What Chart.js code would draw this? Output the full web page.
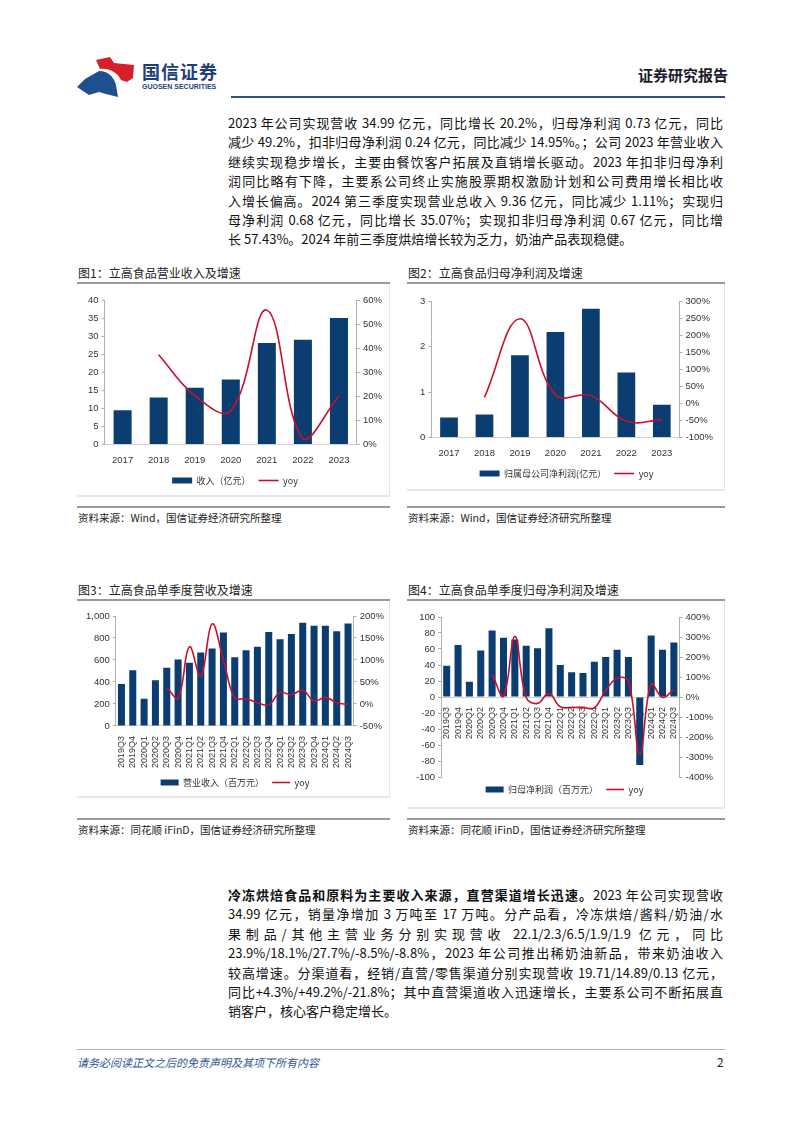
<!DOCTYPE html>
<html>
<head>
<meta charset="utf-8">
<script src="https://cdn.jsdelivr.net/npm/chart.js@4.4.1/dist/chart.umd.min.js"></script>
<style>
  body { margin: 0; background: #fff; font-family: "Noto Sans CJK SC", "Noto Sans", sans-serif; color: #111; }
  #page { position: relative; width: 802px; height: 1133px; overflow: hidden; }
  .abs { position: absolute; }
  .para { position: absolute; left: 228px; width: 495px; font-size: 13px; }
  .para div { height: 19.4px; line-height: 19.4px; text-align: justify; text-align-last: justify; }
  .para div.last { text-align-last: left; }
  .ttl { position: absolute; font-size: 12px; color: #222; line-height: 14px; }
  .rule { position: absolute; height: 2px; background: #9a9a9a; }
  .src { position: absolute; font-size: 10.5px; color: #222; line-height: 12px; }
  .box { position: absolute; border-right: 1px solid #e6e6e6; border-bottom: 2px solid #e6e6e6; }
  canvas { position: absolute; }
</style>
</head>
<body>
<div id="page">
  <!-- header -->
  <svg class="abs" style="left:76px;top:57px" width="60" height="40" viewBox="0 0 60 40">
    <path d="M20 3 L34 0 L38 6 L58 8 L57 21 L51 25 L45 23 C41 15 33 11 24 12 Z" fill="#d71f2b"/>
    <path d="M23 14 C32 14 38 20 40 28 L42 40 L30 37 L23 35 L13 38 L1 30 L9 22 Z" fill="#1d4f91"/>
  </svg>
  <div class="abs" style="left:142px;top:60px;font-size:18px;font-weight:bold;color:#1d3f7a;letter-spacing:1px;line-height:22px">国信证券</div>
  <div class="abs" style="left:142px;top:83px;font-size:7px;font-weight:bold;color:#1d3f7a;line-height:8px;font-family:'Liberation Sans',sans-serif">GUOSEN SECURITIES</div>
  <div class="abs" style="left:638px;top:66px;font-size:15px;font-weight:bold;color:#1b1b2e;line-height:18px">证券研究报告</div>
  <div class="abs" style="left:231px;top:96px;width:494px;height:2px;background:#2f4f8a"></div>

  <!-- paragraph 1 -->
  <div class="para" style="top:113px">
    <div>2023 年公司实现营收 34.99 亿元，同比增长 20.2%，归母净利润 0.73 亿元，同比</div>
    <div>减少 49.2%，扣非归母净利润 0.24 亿元，同比减少 14.95%。；公司 2023 年营业收入</div>
    <div>继续实现稳步增长，主要由餐饮客户拓展及直销增长驱动。2023 年扣非归母净利</div>
    <div>润同比略有下降，主要系公司终止实施股票期权激励计划和公司费用增长相比收</div>
    <div>入增长偏高。2024 第三季度实现营业总收入 9.36 亿元，同比减少 1.11%；实现归</div>
    <div>母净利润 0.68 亿元，同比增长 35.07%；实现扣非归母净利润 0.67 亿元，同比增</div>
    <div class="last">长 57.43%。2024 年前三季度烘焙增长较为乏力，奶油产品表现稳健。</div>
  </div>

  <!-- row 1 -->
  <div class="ttl" style="left:78px;top:266px">图1：立高食品营业收入及增速</div>
  <div class="ttl" style="left:408px;top:266px">图2：立高食品归母净利润及增速</div>
  <div class="rule" style="left:77px;top:282px;width:313px"></div>
  <div class="rule" style="left:407px;top:282px;width:318px"></div>
  <div class="box" style="left:77px;top:284px;width:312px;height:211px"></div>
  <div class="box" style="left:407px;top:284px;width:317px;height:205px"></div>
  <canvas id="c1" width="311" height="209" style="left:78px;top:287px"></canvas>
  <canvas id="c2" width="316" height="203" style="left:408px;top:287px"></canvas>
  <div class="rule" style="left:77px;top:506px;width:313px"></div>
  <div class="rule" style="left:407px;top:506px;width:318px"></div>
  <div class="src" style="left:78px;top:512px">资料来源：Wind，国信证券经济研究所整理</div>
  <div class="src" style="left:408px;top:512px">资料来源：Wind，国信证券经济研究所整理</div>

  <!-- row 2 -->
  <div class="ttl" style="left:78px;top:583px">图3：立高食品单季度营收及增速</div>
  <div class="ttl" style="left:408px;top:583px">图4：立高食品单季度归母净利润及增速</div>
  <div class="rule" style="left:77px;top:599px;width:313px"></div>
  <div class="rule" style="left:407px;top:599px;width:318px"></div>
  <div class="box" style="left:77px;top:601px;width:312px;height:195px"></div>
  <div class="box" style="left:407px;top:601px;width:317px;height:206px"></div>
  <canvas id="c3" width="311" height="194" style="left:78px;top:603px"></canvas>
  <canvas id="c4" width="316" height="205" style="left:408px;top:603px"></canvas>
  <div class="rule" style="left:77px;top:818px;width:313px"></div>
  <div class="rule" style="left:407px;top:818px;width:318px"></div>
  <div class="src" style="left:78px;top:824px">资料来源：同花顺 iFinD，国信证券经济研究所整理</div>
  <div class="src" style="left:408px;top:824px">资料来源：同花顺 iFinD，国信证券经济研究所整理</div>

  <!-- paragraph 2 -->
  <div class="para" style="top:885px">
    <div><b>冷冻烘焙食品和原料为主要收入来源，直营渠道增长迅速。</b>2023 年公司实现营收</div>
    <div>34.99 亿元，销量净增加 3 万吨至 17 万吨。分产品看，冷冻烘焙/酱料/奶油/水</div>
    <div>果制品/其他主营业务分别实现营收 22.1/2.3/6.5/1.9/1.9 亿元，同比</div>
    <div>23.9%/18.1%/27.7%/-8.5%/-8.8%，2023 年公司推出稀奶油新品，带来奶油收入</div>
    <div>较高增速。分渠道看，经销/直营/零售渠道分别实现营收 19.71/14.89/0.13 亿元，</div>
    <div>同比+4.3%/+49.2%/-21.8%；其中直营渠道收入迅速增长，主要系公司不断拓展直</div>
    <div class="last">销客户，核心客户稳定增长。</div>
  </div>

  <!-- footer -->
  <div class="abs" style="left:77px;top:1049px;width:648px;height:1px;background:#b0b0b0"></div>
  <div class="abs" style="left:77px;top:1055px;font-size:11px;font-style:italic;color:#2f5597;line-height:14px">请务必阅读正文之后的免责声明及其项下所有内容</div>
  <div class="abs" style="left:717px;top:1055px;font-size:12px;color:#222;line-height:14px">2</div>
</div>

<script>
// 年度数据
var years = ['2017', '2018', '2019', '2020', '2021', '2022', '2023'];
var revenue = [9.5, 13.0, 15.7, 18.0, 28.1, 29.0, 35.0];          // 亿元
var revenueYoy = [null, 37.3, 20.4, 14.0, 55.8, 2.5, 20.2];       // %
var netProfit = [0.44, 0.51, 1.81, 2.32, 2.83, 1.43, 0.72];        // 亿元
var netProfitYoy = [null, 18, 248, 25, 23, -52, -48];             // %

// 单季度数据
var quarters = ['2019Q3', '2019Q4', '2020Q1', '2020Q2', '2020Q3', '2020Q4', '2021Q1', '2021Q2',
  '2021Q3', '2021Q4', '2022Q1', '2022Q2', '2022Q3', '2022Q4', '2023Q1', '2023Q2', '2023Q3',
  '2023Q4', '2024Q1', '2024Q2', '2024Q3'];
var qRevenue = [382, 507, 248, 415, 529, 604, 574, 669, 705, 850, 624, 688, 721, 855, 788, 836, 939, 911, 911, 861, 932];
var qRevenueYoy = [null, null, null, null, 37, 14, 130, 63, 182, 100, 14, 12, 3, -2, 26, 21, 31, 7, 15, 3, -1];
var qProfit = [39, 65, 19, 58, 83, 74, 72, 64, 61, 86, 40, 31, 30, 44, 50, 59, 50, -85, 77, 59, 68];
var qProfitYoy = [null, null, null, null, 115, 5, 303, -3, -32, 18, -49, -52, -52, -54, 33, 94, 80, -286, 65, -2, 38];

var BAR = '#0c3d70';
var RED = '#c8102e';

Chart.defaults.font.family = '"Liberation Sans", Arial, "Noto Sans CJK SC", sans-serif';
Chart.defaults.font.size = 9.5;
Chart.defaults.color = '#333';

function drawChart(id, labels, bars, yoy, barName, o) {
  var ctx = document.getElementById(id).getContext('2d');
  return new Chart(ctx, {
    data: {
      labels: labels,
      datasets: [{
        type: 'line',
        label: 'yoy',
        data: yoy,
        yAxisID: 'y1',
        borderColor: RED,
        backgroundColor: RED,
        borderWidth: 1.6,
        pointRadius: 0,
        tension: 0.4,
        pointStyle: 'line',
        order: 1
      }, {
        type: 'bar',
        label: barName,
        data: bars,
        yAxisID: 'y',
        backgroundColor: BAR,
        barPercentage: o.barPct,
        categoryPercentage: 1,
        pointStyle: 'rect',
        order: 2
      }]
    },
    options: {
      responsive: false,
      animation: false,
      layout: { padding: o.pad },
      plugins: {
        tooltip: { enabled: false },
        legend: {
          position: 'bottom',
          reverse: true,
          labels: {
            usePointStyle: true,
            pointStyleWidth: o.legW,
            boxHeight: 6,
            padding: 8,
            color: '#333',
            font: { size: 9, family: '"Noto Sans CJK SC", sans-serif' }
          }
        }
      },
      scales: {
        x: {
          position: o.xPos,
          grid: { display: false },
          border: { display: true, color: '#d0d0d0' },
          ticks: { autoSkip: false, minRotation: o.rot, maxRotation: o.rot, padding: 2, font: { size: o.xFont } }
        },
        y: {
          position: 'left',
          min: o.yMin, max: o.yMax,
          ticks: { stepSize: o.yStep, padding: 3 },
          grid: { drawOnChartArea: false, tickLength: 3, color: '#b0b0b0' },
          border: { color: '#b0b0b0' }
        },
        y1: {
          position: 'right',
          min: o.rMin, max: o.rMax,
          ticks: { stepSize: o.rStep, padding: 3, callback: function (v) { return v + '%'; } },
          grid: { drawOnChartArea: false, tickLength: 3, color: '#b0b0b0' },
          border: { color: '#b0b0b0' }
        }
      }
    }
  });
}

drawChart('c1', years, revenue, revenueYoy, '收入（亿元）', {
  barPct: 0.5, legW: 20, xPos: 'bottom', rot: 0, xFont: 9.5,
  yMin: 0, yMax: 40, yStep: 5, rMin: 0, rMax: 60, rStep: 10,
  pad: { left: 7, right: 4, top: 13, bottom: 1 }
});

drawChart('c2', years, netProfit, netProfitYoy, '归属母公司净利润(亿元）', {
  barPct: 0.5, legW: 20, xPos: 'bottom', rot: 0, xFont: 9.5,
  yMin: 0, yMax: 3, yStep: 1, rMin: -100, rMax: 300, rStep: 50,
  pad: { left: 9, right: 8, top: 14, bottom: 2 }
});

drawChart('c3', quarters, qRevenue, qRevenueYoy, '营业收入（百万元）', {
  barPct: 0.62, legW: 18, xPos: 'bottom', rot: 90, xFont: 9,
  yMin: 0, yMax: 1000, yStep: 100, rMin: -50, rMax: 200, rStep: 50,
  pad: { left: 5, right: 2, top: 13, bottom: 0 }
});

drawChart('c4', quarters, qProfit, qProfitYoy, '归母净利润（百万元）', {
  barPct: 0.62, legW: 18, xPos: { y: 0 }, rot: 90, xFont: 9,
  yMin: -100, yMax: 100, yStep: 20, rMin: -400, rMax: 400, rStep: 100,
  pad: { left: 5, right: 8, top: 14, bottom: 4 }
});
</script>
</body>
</html>
